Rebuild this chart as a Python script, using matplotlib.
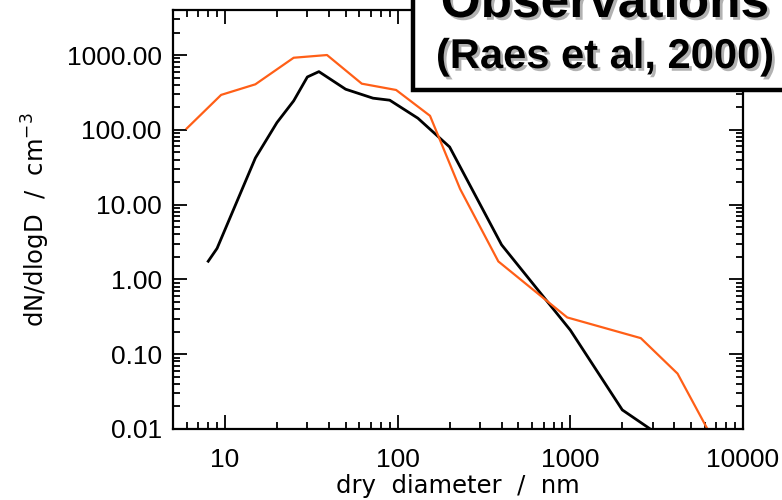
import matplotlib
matplotlib.use('Agg')
import matplotlib.pyplot as plt
import matplotlib.patheffects as pe
from matplotlib.patches import Rectangle
from matplotlib.ticker import LogLocator, FixedLocator, FixedFormatter, NullFormatter

plt.rcParams['font.family'] = ['Liberation Sans', 'DejaVu Sans']

# black curve (model)
model_d = [8, 9, 15, 20, 25, 30, 35, 50, 72, 90, 131, 200, 400, 1000, 2000, 3000]
model_n = [1.75, 2.6, 42, 125, 244, 509, 600, 349, 265, 249, 143, 59, 2.9, 0.21, 0.018, 0.0095]

# orange curve (observations, Raes et al 2000)
obs_d = [6, 9.5, 15, 25, 39, 62, 98, 154, 230, 383, 960, 2560, 4180, 6300]
obs_n = [104, 293, 406, 920, 1000, 414, 341, 154, 16.2, 1.74, 0.31, 0.164, 0.055, 0.0095]

yticks = [0.01, 0.1, 1, 10, 100, 1000]
ytick_labels = ['0.01', '0.10', '1.00', '10.00', '100.00', '1000.00']
xticks = [10, 100, 1000, 10000]
xtick_labels = ['10', '100', '1000', '10000']

fig = plt.figure(figsize=(7.82, 5.0), dpi=100)
ax = fig.add_axes([0.2212, 0.142, 0.7289, 0.838])

ax.plot(model_d, model_n, color='black', lw=2.0)
ax.plot(obs_d, obs_n, color='#ff5f17', lw=1.6)

ax.set_xscale('log')
ax.set_yscale('log')
ax.set_xlim(5, 10000)
ax.set_ylim(0.01, 4000)

ax.yaxis.set_major_locator(FixedLocator(yticks))
ax.yaxis.set_major_formatter(FixedFormatter(ytick_labels))
ax.xaxis.set_major_locator(FixedLocator(xticks))
ax.xaxis.set_major_formatter(FixedFormatter(xtick_labels))
ax.xaxis.set_minor_locator(LogLocator(base=10, subs=range(2, 10)))
ax.yaxis.set_minor_locator(LogLocator(base=10, subs=range(2, 10)))
ax.xaxis.set_minor_formatter(NullFormatter())
ax.yaxis.set_minor_formatter(NullFormatter())

# IDL style: inward ticks on every side
ax.tick_params(which='both', direction='in', top=True, right=True, width=1.3, color='black')
ax.tick_params(which='major', length=10, labelsize=19)
ax.tick_params(which='minor', length=5)
ax.tick_params(axis='x', which='major', pad=14)
ax.tick_params(axis='y', which='major', pad=8)
for sp in ax.spines.values():
    sp.set_linewidth(1.6)

ax.set_xlabel('dry  diameter  /  nm', fontsize=17.5, family='DejaVu Sans')
ax.xaxis.set_label_coords(0.5, -0.108)
ax.set_ylabel('dN/dlogD  /  cm$^{-3}$', fontsize=17.5, family='DejaVu Sans')
ax.yaxis.set_label_coords(-0.212, 0.5)

# labelled box in the top right corner
box = Rectangle((413 / 782, 1 - 90 / 500), 0.6, 0.3, transform=fig.transFigure,
                facecolor='white', edgecolor='black', lw=3.2, zorder=5)
fig.add_artist(box)
shadow = [pe.SimplePatchShadow(offset=(2, -2), shadow_rgbFace='gray', alpha=0.6), pe.Normal()]
fig.text(605 / 782, 1 - 17 / 500, 'Observations', ha='center', va='baseline',
         fontsize=37, fontweight='bold', zorder=6, path_effects=shadow)
fig.text(605 / 782, 1 - 68 / 500, '(Raes et al, 2000)', ha='center', va='baseline',
         fontsize=30, fontweight='bold', zorder=6, path_effects=shadow)

fig.savefig('out.png', dpi=100)
